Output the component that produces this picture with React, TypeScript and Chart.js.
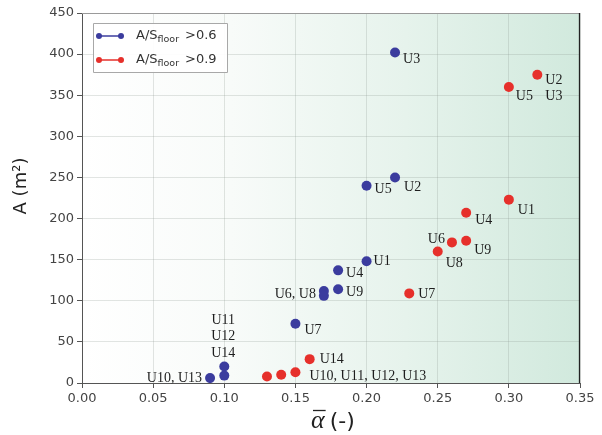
import React, { useEffect, useRef } from "react";
import { Chart, registerables } from "chart.js";

Chart.register(...registerables);

// Mean absorption coefficient (x) and required absorption area A in m² (y)
const blueX = [0.22, 0.22, 0.2, 0.2, 0.18, 0.18, 0.17, 0.17, 0.15, 0.1, 0.1, 0.09];
const blueY = [402, 250, 240, 148, 137, 114, 112, 106, 72, 20, 9, 6];
const redX = [0.32, 0.3, 0.3, 0.27, 0.27, 0.26, 0.25, 0.23, 0.16, 0.15, 0.14, 0.13];
const redY = [375, 360, 223, 207, 173, 171, 160, 109, 29, 13, 10, 8];

const seriesNames = [">0.6", ">0.9"];
const blueColor = "#3b3c9e";
const redColor = "#e6302b";

// Room labels: [point index, text, dx, dy, align]
type Note = [number, string, number, number, CanvasTextAlign];
const blueNotes: Note[] = [
  [0, "U3", 8, 7, "left"],
  [1, "U2", 9, 10, "left"],
  [2, "U5", 8, 4, "left"],
  [3, "U1", 7, 0, "left"],
  [4, "U4", 8, 3, "left"],
  [5, "U9", 8, 3, "left"],
  [6, "U6, U8", -8, 3, "right"],
  [8, "U7", 9, 7, "left"],
  [9, "U11", -1, -46, "center"],
  [9, "U12", -1, -30, "center"],
  [9, "U14", -1, -13, "center"],
  [11, "U10, U13", -8, 0, "right"],
];
const redNotes: Note[] = [
  [0, "U2", 8, 6, "left"],
  [0, "U3", 8, 22, "left"],
  [1, "U5", 7, 9, "left"],
  [2, "U1", 9, 11, "left"],
  [3, "U4", 9, 8, "left"],
  [4, "U9", 8, 10, "left"],
  [5, "U6", -7, -3, "right"],
  [6, "U8", 8, 12, "left"],
  [7, "U7", 9, 1, "left"],
  [8, "U14", 10, 0, "left"],
  [9, "U10, U11, U12, U13", 14, 4, "left"],
];

const toPoints = (xs: number[], ys: number[]) => xs.map((x, i) => ({ x, y: ys[i] }));

const backgroundPlugin = {
  id: "plotBackground",
  beforeDraw(chart: any) {
    const { ctx, chartArea: a } = chart;
    const g = ctx.createLinearGradient(a.left, 0, a.right, 0);
    g.addColorStop(0, "#ffffff");
    g.addColorStop(0.3, "#f8fbf9");
    g.addColorStop(0.65, "#e6f3ec");
    g.addColorStop(1, "#d1e9dd");
    ctx.save();
    ctx.fillStyle = g;
    ctx.fillRect(a.left, a.top, a.right - a.left, a.bottom - a.top);
    ctx.restore();
  },
};

const decorPlugin = {
  id: "decor",
  afterDraw(chart: any) {
    const { ctx, chartArea: a, scales } = chart;
    const xs = scales.x;
    const ys = scales.y;
    ctx.save();

    // frame: top and right
    ctx.lineWidth = 1;
    ctx.strokeStyle = "#9a9a9a";
    ctx.beginPath();
    ctx.moveTo(a.left, a.top + 0.5);
    ctx.lineTo(a.right, a.top + 0.5);
    ctx.stroke();
    ctx.strokeStyle = "#222";
    ctx.lineWidth = 1.3;
    ctx.beginPath();
    ctx.moveTo(a.right - 0.5, a.top);
    ctx.lineTo(a.right - 0.5, a.bottom);
    ctx.stroke();

    // room labels
    ctx.font = '14px "Liberation Serif", serif';
    ctx.fillStyle = "#1e1e1e";
    ctx.textBaseline = "middle";
    const drawNotes = (notes: Note[], xsArr: number[], ysArr: number[]) => {
      notes.forEach(([i, text, dx, dy, align]) => {
        const px = xs.getPixelForValue(xsArr[i]);
        const py = ys.getPixelForValue(ysArr[i]);
        ctx.textAlign = align;
        ctx.fillText(text, px + dx, py + dy);
      });
    };
    drawNotes(blueNotes, blueX, blueY);
    drawNotes(redNotes, redX, redY);

    // legend
    const lx = 93;
    const ly = 23;
    const lw = 134;
    const lh = 49;
    ctx.fillStyle = "rgba(255,255,255,0.92)";
    ctx.strokeStyle = "#a8a8a8";
    ctx.lineWidth = 1;
    ctx.beginPath();
    ctx.rect(lx + 0.5, ly + 0.5, lw, lh);
    ctx.fill();
    ctx.stroke();
    const rows = [
      { color: blueColor, name: seriesNames[0], y: 36 },
      { color: redColor, name: seriesNames[1], y: 60 },
    ];
    rows.forEach((r) => {
      ctx.strokeStyle = r.color;
      ctx.fillStyle = r.color;
      ctx.lineWidth = 1.5;
      ctx.beginPath();
      ctx.moveTo(99, r.y);
      ctx.lineTo(121, r.y);
      ctx.stroke();
      [99, 121].forEach((cx) => {
        ctx.beginPath();
        ctx.arc(cx, r.y, 3, 0, Math.PI * 2);
        ctx.fill();
      });
      ctx.fillStyle = "#333";
      ctx.textAlign = "left";
      ctx.textBaseline = "middle";
      ctx.font = '13px "DejaVu Sans", sans-serif';
      ctx.fillText("A/S", 136, r.y);
      let x = 136 + ctx.measureText("A/S").width;
      ctx.font = '9.5px "DejaVu Sans", sans-serif';
      ctx.fillText("floor", x, r.y + 4);
      x += ctx.measureText("floor").width + 6;
      ctx.font = '13px "DejaVu Sans", sans-serif';
      ctx.fillText(r.name, x, r.y);
    });

    // axis titles
    ctx.fillStyle = "#222";
    ctx.save();
    ctx.translate(21, 186);
    ctx.rotate(-Math.PI / 2);
    ctx.textAlign = "center";
    ctx.textBaseline = "middle";
    ctx.font = '18px "DejaVu Sans", sans-serif';
    ctx.fillText("A (m²)", 0, 0);
    ctx.restore();

    ctx.textAlign = "left";
    ctx.textBaseline = "alphabetic";
    ctx.font = 'italic 26px "Liberation Serif", serif';
    const ax = 311;
    const base = 428;
    ctx.fillText("α", ax, base);
    const aw = ctx.measureText("α").width;
    ctx.strokeStyle = "#222";
    ctx.lineWidth = 1.3;
    ctx.beginPath();
    ctx.moveTo(ax + 2, 410.5);
    ctx.lineTo(ax + aw + 1, 410.5);
    ctx.stroke();
    ctx.font = '22px "DejaVu Sans", sans-serif';
    ctx.fillText(" (-)", ax + aw - 2, base);

    ctx.restore();
  },
};

export default function App() {
  const ref = useRef<HTMLCanvasElement | null>(null);

  useEffect(() => {
    if (!ref.current) return;
    const tickFont = { family: '"DejaVu Sans", sans-serif', size: 13 };
    const chart = new Chart(ref.current, {
      type: "scatter",
      data: {
        datasets: [
          {
            label: "A/S floor " + seriesNames[0],
            data: toPoints(blueX, blueY),
            backgroundColor: blueColor,
            borderColor: blueColor,
            pointRadius: 5,
            borderWidth: 0,
          },
          {
            label: "A/S floor " + seriesNames[1],
            data: toPoints(redX, redY),
            backgroundColor: redColor,
            borderColor: redColor,
            pointRadius: 5,
            borderWidth: 0,
          },
        ],
      },
      options: {
        animation: false,
        responsive: false,
        maintainAspectRatio: false,
        layout: { padding: { left: 0, top: 13, right: 22, bottom: 0 } },
        plugins: {
          legend: { display: false },
          tooltip: { enabled: false },
        },
        scales: {
          x: {
            type: "linear",
            min: 0,
            max: 0.35,
            ticks: {
              stepSize: 0.05,
              color: "#444",
              font: tickFont,
              padding: 3,
              callback: (v: any) => Number(v).toFixed(2),
            },
            grid: {
              color: "rgba(140,150,145,0.25)",
              tickColor: "#555",
              tickLength: 5,
            },
            border: { color: "#555", width: 1 },
            afterFit: (s: any) => {
              s.height = 52;
            },
          },
          y: {
            type: "linear",
            min: 0,
            max: 450,
            ticks: {
              stepSize: 50,
              color: "#444",
              font: tickFont,
              padding: 3,
            },
            grid: {
              color: "rgba(140,150,145,0.25)",
              tickColor: "#555",
              tickLength: 5,
            },
            border: { color: "#555", width: 1 },
            afterFit: (s: any) => {
              s.width = 82;
            },
          },
        },
      },
      plugins: [backgroundPlugin, decorPlugin],
    });
    return () => chart.destroy();
  }, []);

  return (
    <div style={{ position: "fixed", left: 0, top: 0, width: 602, height: 435, background: "#fff" }}>
      <canvas ref={ref} width={602} height={435} style={{ display: "block", width: 602, height: 435 }} />
    </div>
  );
}
